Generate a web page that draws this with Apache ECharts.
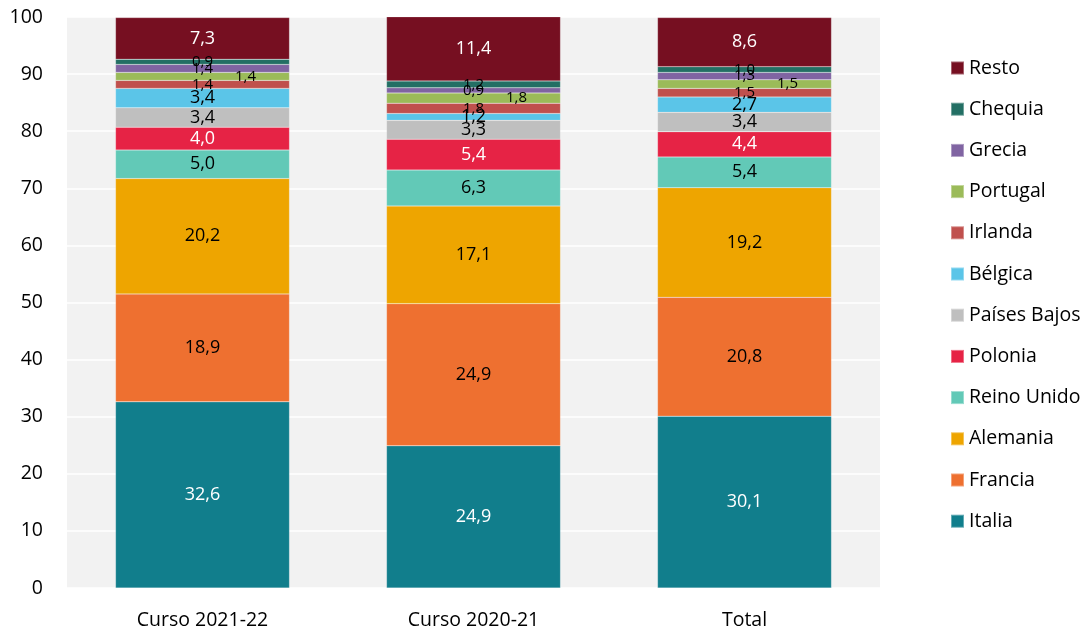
<!DOCTYPE html>
<html>
<head>
<meta charset="utf-8">
<script src="https://cdn.jsdelivr.net/npm/echarts@6/dist/echarts.min.js"></script>
<style>html,body{margin:0;padding:0;background:#fff;}#c{width:1091px;height:634px;}</style>
</head>
<body>
<div id="c"></div>
<script>
const categories = ['Curso 2021-22', 'Curso 2020-21', 'Total'];
const yTicks = [0, 10, 20, 30, 40, 50, 60, 70, 80, 90, 100];
const seriesNames = ['Italia', 'Francia', 'Alemania', 'Reino Unido', 'Polonia', 'Países Bajos', 'Bélgica', 'Irlanda', 'Portugal', 'Grecia', 'Chequia', 'Resto'];
const italia = [32.6, 24.9, 30.1];
const francia = [18.9, 24.9, 20.8];
const alemania = [20.2, 17.1, 19.2];
const reinoUnido = [5.0, 6.3, 5.4];
const polonia = [4.0, 5.4, 4.4];
const paisesBajos = [3.4, 3.3, 3.4];
const belgica = [3.4, 1.2, 2.7];
const irlanda = [1.4, 1.8, 1.5];
const portugal = [1.4, 1.8, 1.5];
const grecia = [1.4, 0.9, 1.3];
const chequia = [0.9, 1.2, 1.0];
const resto = [7.3, 11.4, 8.6];
const seriesValues = [italia, francia, alemania, reinoUnido, polonia, paisesBajos, belgica, irlanda, portugal, grecia, chequia, resto];
const colors = ['#117E8C', '#EE7030', '#EEA500', '#62C9B7', '#E62345', '#BFBFBF', '#5BC5E8', '#C0504D', '#9BBB59', '#8064A2', '#236F64', '#760F21'];
const labelColors = ['#fff', '#000', '#000', '#000', '#fff', '#000', '#000', '#000', '#000', '#000', '#000', '#fff'];
const smallLabel = [false, false, false, false, false, false, false, true, true, true, true, false];

const FONT = 'Open Sans';
const fmt = p => p.value.toFixed(1).replace('.', ',');

const series = seriesNames.map((name, i) => ({
  name: name,
  type: 'bar',
  stack: 'total',
  barWidth: 174,
  data: seriesValues[i],
  itemStyle: { color: colors[i], borderColor: 'rgba(255,255,255,0.35)', borderWidth: 0.5 },
  label: {
    show: true,
    position: 'inside',
    offset: name === 'Portugal' ? [43, 0] : [0, 0],
    formatter: fmt,
    color: labelColors[i],
    fontFamily: FONT,
    fontSize: smallLabel[i] ? 15 : 18
  },
  emphasis: { disabled: true }
}));

const chart = echarts.init(document.getElementById('c'), null, { renderer: 'canvas' });
chart.setOption({
  animation: false,
  backgroundColor: '#fff',
  grid: { left: 67, right: 211, top: 17, bottom: 46, show: true, backgroundColor: '#F2F2F2', borderWidth: 0 },
  xAxis: {
    type: 'category',
    data: categories,
    axisLine: { show: false },
    axisTick: { show: false },
    axisLabel: { color: '#000', fontFamily: FONT, fontSize: 19.5, margin: 22 }
  },
  yAxis: {
    type: 'value',
    min: yTicks[0],
    max: yTicks[yTicks.length - 1],
    interval: 10,
    axisLine: { show: false },
    axisTick: { show: false },
    splitLine: { show: true, lineStyle: { color: '#ffffff', width: 1.5 } },
    axisLabel: { color: '#000', fontFamily: FONT, fontSize: 19.5, margin: 24 }
  },
  legend: {
    orient: 'vertical',
    left: 950,
    top: 58,
    padding: 0,
    itemWidth: 13,
    itemHeight: 13,
    itemGap: 21.2,
    icon: 'rect',
    data: seriesNames.slice().reverse(),
    textStyle: { color: '#000', fontFamily: FONT, fontSize: 19.5, lineHeight: 20 }
  },
  series: series
});
</script>
</body>
</html>
